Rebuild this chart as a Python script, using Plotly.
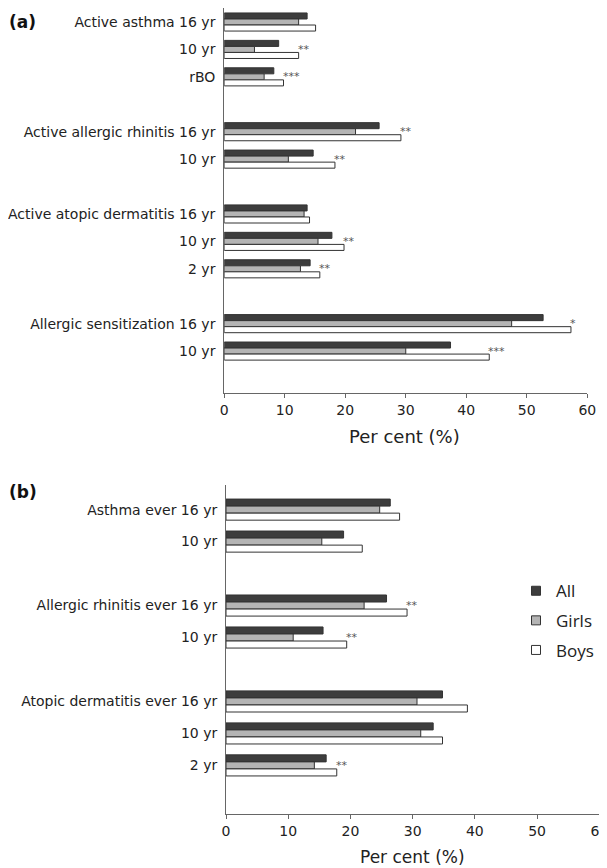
import plotly.graph_objects as go

# ---------------- data ----------------
labels_a = ["Active asthma 16 yr", "10 yr", "rBO",
            "Active allergic rhinitis 16 yr", "10 yr",
            "Active atopic dermatitis 16 yr", "10 yr", "2 yr",
            "Allergic sensitization 16 yr", "10 yr"]
group_sizes_a = [3, 2, 3, 2]
all_a = [13.7, 9.0, 8.2, 25.6, 14.7, 13.7, 17.8, 14.2, 52.7, 37.4]
girls_a = [12.3, 5.0, 6.6, 21.7, 10.6, 13.2, 15.5, 12.6, 47.5, 30.0]
boys_a = [15.1, 12.3, 9.8, 29.2, 18.3, 14.1, 19.8, 15.8, 57.3, 43.8]
sig_a = ["", "**", "***", "**", "**", "", "**", "**", "*", "***"]

labels_b = ["Asthma ever 16 yr", "10 yr",
            "Allergic rhinitis ever 16 yr", "10 yr",
            "Atopic dermatitis ever 16 yr", "10 yr", "2 yr"]
group_sizes_b = [2, 2, 3]
all_b = [26.4, 18.9, 25.8, 15.6, 34.8, 33.3, 16.1]
girls_b = [24.7, 15.4, 22.2, 10.8, 30.7, 31.3, 14.2]
boys_b = [27.9, 21.9, 29.1, 19.4, 38.8, 34.8, 17.8]
sig_b = ["", "", "**", "**", "", "", "**"]

series_names = ["All", "Girls", "Boys"]
xticks = [0, 10, 20, 30, 40, 50, 60]

# ---------------- styling ----------------
PAGE_OFF = 8  # default body margin of the html page
W, H = 607 - PAGE_OFF, 868 - PAGE_OFF
colors = {"All": "#3d3d3d", "Girls": "#b4b4b4", "Boys": "#ffffff"}
outline = "#333333"
axis_col = "#666666"
txt_col = "#222222"
FONT = "DejaVu Sans"


def positions(sizes):
    pos, p = [], 0
    for s in sizes:
        for _ in range(s):
            pos.append(p)
            p += 1
        p += 1  # empty row between groups
    return pos


pos_a = positions(group_sizes_a)
pos_b = positions(group_sizes_b)

fig = go.Figure()

for name, vals in zip(series_names, [all_a, girls_a, boys_a]):
    fig.add_trace(go.Bar(x=vals, y=pos_a, orientation="h", name=name,
                         marker=dict(color=colors[name], line=dict(color=outline, width=1)),
                         showlegend=False, xaxis="x", yaxis="y", hoverinfo="x+name"))
for name, vals in zip(series_names, [all_b, girls_b, boys_b]):
    fig.add_trace(go.Bar(x=vals, y=pos_b, orientation="h", name=name,
                         marker=dict(color=colors[name], line=dict(color=outline, width=1)),
                         showlegend=False, xaxis="x2", yaxis="y2", hoverinfo="x+name"))

# legend entries
for name in series_names:
    fig.add_trace(go.Scatter(x=[None], y=[None], mode="markers", name=name,
                             legendgroup=name,
                             marker=dict(symbol="square", size=9, color=colors[name],
                                         line=dict(color=outline, width=1)),
                             xaxis="x2", yaxis="y2"))


def px_x(p):
    return (p - PAGE_OFF) / W


def px_y(p):
    return 1 - (p - PAGE_OFF) / H


annotations = []
for sig, b, p in zip(sig_a, boys_a, pos_a):
    if sig:
        annotations.append(dict(x=b, y=p, xref="x", yref="y", text=sig, showarrow=False,
                                xanchor="left", yanchor="middle", xshift=-3,
                                font=dict(family=FONT, size=11, color="#555555")))
for sig, b, p in zip(sig_b, boys_b, pos_b):
    if sig:
        annotations.append(dict(x=b, y=p, xref="x2", yref="y2", text=sig, showarrow=False,
                                xanchor="left", yanchor="middle", xshift=-3,
                                font=dict(family=FONT, size=11, color="#555555")))

# panel letters
annotations.append(dict(x=px_x(22), y=px_y(21.5), xref="paper", yref="paper", text="<b>(a)</b>",
                        showarrow=False, xanchor="center", yanchor="middle",
                        font=dict(family=FONT, size=17, color="#111111")))
annotations.append(dict(x=px_x(22.5), y=px_y(492), xref="paper", yref="paper", text="<b>(b)</b>",
                        showarrow=False, xanchor="center", yanchor="middle",
                        font=dict(family=FONT, size=17, color="#111111")))
# axis titles
annotations.append(dict(x=px_x(404), y=px_y(436.5), xref="paper", yref="paper", text="Per cent (%)",
                        showarrow=False, xanchor="center", yanchor="middle",
                        font=dict(family=FONT, size=18, color=txt_col)))
annotations.append(dict(x=px_x(412), y=px_y(856.5), xref="paper", yref="paper", text="Per cent (%)",
                        showarrow=False, xanchor="center", yanchor="middle",
                        font=dict(family=FONT, size=17, color=txt_col)))

xcommon = dict(range=[0, 60], tickvals=xticks, ticks="outside", ticklen=4, tickcolor=axis_col,
               showline=True, linecolor=axis_col, linewidth=1, showgrid=False, zeroline=False,
               automargin=False, ticklabeloverflow="allow",
               tickfont=dict(family=FONT, size=14, color=txt_col), fixedrange=True)
ycommon = dict(showline=True, linecolor=axis_col, linewidth=1, showgrid=False, zeroline=False,
               ticks="", ticklabelstandoff=5, automargin=False,
               tickfont=dict(family=FONT, size=14, color=txt_col), fixedrange=True)

fig.update_layout(
    width=W, height=H,
    margin=dict(l=0, r=0, t=0, b=0),
    paper_bgcolor="white", plot_bgcolor="white",
    barmode="group", bargap=0.34, bargroupgap=0,
    xaxis=dict(domain=[px_x(224.2), px_x(587.3)], anchor="y", **xcommon),
    yaxis=dict(domain=[px_y(393.3), px_y(8.3)], anchor="x", range=[13.54, -0.5],
               tickvals=pos_a, ticktext=labels_a, **ycommon),
    xaxis2=dict(domain=[px_x(226), min(1.0, px_x(599.3))], anchor="y2", **xcommon),
    yaxis2=dict(domain=[px_y(814), px_y(485)], anchor="x2", range=[9.52, -0.77],
                tickvals=pos_b, ticktext=labels_b, **ycommon),
    legend=dict(x=px_x(516), y=px_y(620.7), xanchor="left", yanchor="middle",
                font=dict(family="Open Sans", size=17, color=txt_col),
                tracegroupgap=4.5, bgcolor="rgba(0,0,0,0)", borderwidth=0,
                traceorder="grouped"),
    annotations=annotations,
    showlegend=True,
)

fig.write_html("out.html")
